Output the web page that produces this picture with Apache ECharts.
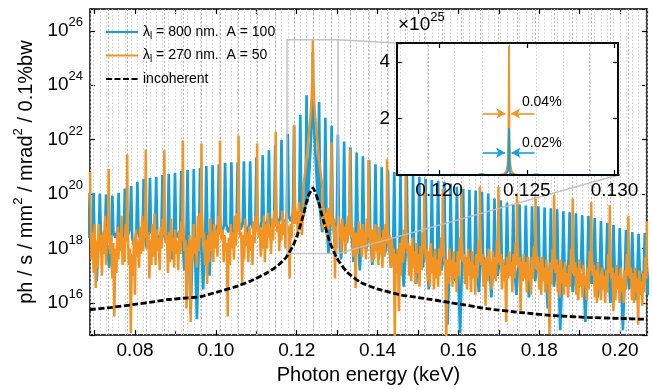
<!DOCTYPE html>
<html><head><meta charset="utf-8">
<script src="https://cdn.jsdelivr.net/npm/echarts@6/dist/echarts.min.js"></script>
<style>html,body{margin:0;padding:0;background:#fff}#c{width:652px;height:390px}</style>
</head><body><div id="c"></div>
<script>
// ---------- data (log10 of ph/s/mm^2/mrad^2/0.1%bw) ----------
const BLUE_STEP = 0.0015498;   // keV, harmonic spacing for λ = 800 nm
const ORANGE_STEP = 0.0045920; // keV, harmonic spacing for λ = 270 nm
const blueFirstN = 44;
const bluePeakLog = [20.05,20.05,20.02,19.98,19.95,20.05,20.20,20.31,20.45,20.56,20.60,20.63,20.70,20.74,20.78,20.85,20.88,20.92,20.96,21.03,21.06,
  21.10,21.14,21.17,21.17,21.21,21.21,21.35,21.43,21.61,21.82,22.00,22.22,22.51,22.91,23.63,
  25.22,23.38,22.80,22.51,22.18,21.93,21.71,21.53,21.39,21.25,21.10,20.99,20.88,
  20.81,20.74,20.70,20.70,20.63,20.56,20.52,20.49,20.45,20.38,20.27,20.20,20.16,20.13,20.09,20.02,19.84,19.77,
  19.69,19.62,19.62,19.58,19.55,19.55,19.51,19.48,19.44,19.37,19.33,19.30,19.22,19.19,19.12,19.01,18.94,18.87,18.75,18.68,18.61,18.54,18.57,18.57];
const blueGapLog = [
  [18.4,18.6,18.5],[18.2,16.8,18.4],[18.6,18.3,18.7],[18.1,17.3,18.5],[18.6,18.4,18.7],[18.5,18.2,18.6],[18.7,18.5,18.8],
  [18.4,18.1,18.6],[18.6,18.3,18.7],[18.5,18.0,18.6],[18.7,18.4,18.8],[18.5,18.2,18.7],[18.6,18.3,18.5],[18.3,17.6,18.6],
  [18.6,18.4,18.7],[18.5,17.2,18.5],[18.4,15.6,18.3],[18.2,15.4,18.4],[18.3,16.5,18.6],[18.6,17.0,18.7],[18.8,18.5,18.9],
  [18.8,18.5,18.9],[18.9,18.6,18.8],[18.7,18.3,18.9],[18.9,18.7,19.0],[18.8,18.5,18.9],[19.0,18.7,19.0],[18.9,18.6,19.0],
  [19.0,18.8,19.1],[19.0,18.7,19.1],[19.1,18.9,19.2],[19.1,18.8,19.2],[19.2,19.0,19.3],[19.3,19.1,19.4],[19.4,19.2,19.6],[19.7,19.5,20.0],
  [20.0,19.5,19.7],[19.4,18.6,19.3],[19.3,17.8,19.2],[19.2,18.2,19.1],[19.0,17.6,18.9],[18.9,18.3,18.8],[18.8,17.5,18.7],
  [18.7,17.2,18.6],[18.6,17.9,18.5],[18.5,17.4,18.4],[18.4,17.6,18.3],[18.3,17.8,18.2],[18.2,17.3,18.1],
  [18.0,17.2,18.0],[17.9,16.6,17.9],[18.0,17.4,17.8],[17.8,16.7,17.9],[17.9,17.3,17.8],[17.8,16.5,17.7],[17.7,17.0,17.8],
  [17.8,17.2,17.6],[17.6,15.2,17.5],[17.7,16.8,17.6],[17.6,14.9,17.5],[17.7,16.9,17.8],[17.8,17.1,17.6],[17.5,16.4,17.7],
  [17.8,17.2,17.6],[17.6,16.2,17.5],[17.7,17.0,17.6],[17.5,16.8,17.6],
  [17.6,17.0,17.5],[17.4,16.3,17.6],[17.5,16.9,17.4],[17.6,16.2,17.5],[17.4,16.8,17.5],[17.5,17.0,17.3],[17.3,15.8,17.4],
  [17.5,16.6,17.4],[17.4,15.0,17.3],[17.5,16.9,17.6],[17.4,16.4,17.3],[17.3,16.8,17.5],[17.4,15.3,17.3],[17.5,16.7,17.4],
  [17.3,16.2,17.4],[17.4,16.9,17.3],[17.3,16.0,17.2],[17.4,16.6,17.3],[17.2,15.0,17.3],[17.3,16.5,17.2],[17.2,16.1,17.3],
  [17.3,16.7,17.2],[17.2,16.3,17.3]];
const blueCoreN = 80;
const blueCoreOffset = [-0.0008,-0.0004,-0.0002,-0.0001,-0.00005,-0.00002,0,0.00002,0.00005,0.0001,0.0002,0.0004,0.0008];
const blueCoreLog = [21.0,22.2,23.0,23.6,24.2,24.75,25.22,24.75,24.2,23.6,23.0,22.2,21.0];

const orangeFirstN = 15;
const orangePeakLog = [20.81,20.92,21.46,21.64,21.61,21.97,21.86,21.97,22.15,21.86,22.29,22.54,25.66,21.90,21.64,21.25,
  21.28,20.70,20.38,20.20,20.20,20.27,20.27,20.02,19.91,19.98,19.84,19.70,19.60,19.20,19.00];
const orangeGapLog = [
  [19.1,17.6,18.6,17.1,18.9,16.55,18.3,17.3,18.9,17.9,18.5,17.0,18.6,17.8,19.2,17.4,18.8,18.2],
  [19.3,17.8,18.5,16.9,18.2,15.5,18.0,17.1,18.8,17.6,18.6,17.9,19.2,17.4,18.4,17.5,18.9,18.3],
  [18.8,17.4,18.0,14.9,17.8,17.0,18.4,16.3,18.7,17.7,18.3,17.3,18.8,17.8,19.2,17.9,19.0,18.4],
  [19.4,18.0,18.6,16.9,18.3,17.4,18.9,17.7,19.3,17.4,18.7,17.9,18.4,17.2,18.8,18.0,19.1,18.5],
  [19.0,18.2,18.5,17.1,18.6,17.5,19.1,17.9,18.4,17.3,18.7,17.8,18.3,17.2,18.6,17.8,19.0,18.3],
  [19.0,17.9,18.3,15.8,18.0,17.2,18.5,15.3,18.3,17.6,18.9,17.8,18.4,17.3,19.2,17.9,19.3,18.4],
  [19.3,18.2,18.6,17.4,18.3,16.7,18.5,17.5,19.1,17.9,18.6,17.5,18.9,18.0,18.7,17.7,19.2,18.5],
  [19.1,18.3,18.7,17.5,18.5,17.9,18.2,15.5,18.4,17.4,18.9,18.0,18.6,17.6,19.2,18.1,19.3,18.6],
  [19.4,18.4,18.6,16.7,18.5,17.6,19.1,18.1,18.6,17.5,18.8,17.9,18.5,17.4,19.0,18.2,19.2,18.6],
  [19.3,18.4,18.8,17.7,18.7,18.0,19.2,17.5,18.9,18.0,19.3,18.4,18.8,17.8,19.1,18.3,19.4,18.8],
  [19.5,18.6,19.0,17.9,18.9,18.3,19.4,18.5,19.0,18.0,19.3,18.5,18.8,16.9,18.9,18.4,19.5,18.9],
  [19.6,18.9,19.4,18.4,19.7,18.9,19.3,18.5,19.6,19.0,19.8,19.1,19.6,19.2,19.9,19.4,20.1,19.6],
  [20.0,19.5,19.9,19.0,20.0,19.3,19.6,18.8,19.8,18.7,19.5,18.9,19.3,18.5,19.5,18.7,19.4,18.9],
  [19.5,18.7,19.1,16.9,18.8,18.0,19.2,18.4,18.9,17.9,19.1,18.3,18.8,17.8,18.9,18.2,19.2,18.5],
  [19.2,18.4,18.8,17.7,18.6,16.55,18.6,17.8,19.0,18.1,18.7,17.7,18.9,18.0,18.6,17.6,19.1,18.4],
  [19.1,18.2,18.7,17.5,18.7,17.6,18.9,17.9,18.5,17.4,18.8,17.8,18.4,17.3,18.7,17.7,18.9,18.2],
  [18.9,18.0,18.5,17.3,18.4,17.4,18.0,14.75,17.8,17.1,18.0,15.7,18.2,17.0,18.4,17.5,18.7,18.0],
  [18.7,17.8,18.2,17.0,18.1,16.8,18.4,17.3,17.9,16.7,18.2,17.1,17.8,16.6,18.1,17.2,18.6,17.9],
  [18.6,17.6,18.0,16.8,17.9,16.6,18.2,17.1,17.7,16.5,18.0,16.9,17.6,16.6,18.0,17.0,18.4,17.7],
  [18.5,17.5,17.6,14.75,17.6,16.7,18.0,17.0,17.6,16.6,17.9,16.9,17.5,16.4,17.9,17.0,18.4,17.6],
  [18.4,17.5,17.8,16.7,17.7,16.5,18.0,17.0,17.5,16.4,17.9,16.9,17.4,16.3,17.8,16.9,18.3,17.5],
  [18.3,17.4,17.8,16.6,17.6,15.9,17.7,16.8,18.0,17.0,17.5,16.5,17.9,16.9,17.7,16.8,18.3,17.5],
  [18.3,17.4,17.8,16.5,17.6,16.8,17.4,15.3,17.7,16.9,17.9,17.0,17.5,16.4,17.8,16.9,18.2,17.4],
  [18.2,17.3,17.7,15.7,17.5,16.8,17.8,16.9,17.5,16.4,17.7,16.8,17.3,16.3,17.7,16.9,18.1,17.4],
  [18.1,17.2,17.7,16.5,17.5,16.3,17.7,16.8,17.3,16.4,17.6,16.7,17.2,14.86,17.5,16.7,18.0,17.3],
  [18.0,17.1,17.6,16.4,17.4,16.2,17.6,16.7,17.2,16.3,17.5,16.6,17.1,16.2,17.4,16.6,18.0,17.2],
  [18.0,17.0,17.5,16.3,17.3,16.1,17.6,16.6,17.1,16.2,17.4,16.6,17.0,16.1,17.3,16.5,17.9,17.2],
  [17.9,17.0,17.4,16.2,17.2,16.0,17.5,16.5,17.0,16.1,17.3,16.5,17.0,16.0,17.2,16.4,17.8,17.1],
  [17.9,16.9,17.3,15.7,17.1,16.1,17.4,16.5,17.0,16.0,17.3,16.4,16.9,16.0,17.2,16.5,17.8,17.0],
  [17.8,16.9,17.3,16.1,17.1,16.0,17.3,16.4,16.9,15.2,17.2,16.3,16.8,15.9,17.1,16.4,17.7,16.9]];
const orangeCoreN = 27;
const orangeCoreOffset = [-0.0024,-0.0019,-0.0014,-0.0010,-0.0006,-0.0003,-0.00015,-0.00008,-0.00003,0,0.00003,0.00008,0.00015,0.0003,0.0006,0.0010,0.0014,0.0019,0.0024];
const orangeCoreLog = [20.2,20.8,21.5,22.2,22.8,23.5,24.1,24.6,25.2,25.66,25.2,24.6,24.1,23.5,22.8,22.2,21.5,20.8,20.2];

const incE = [0.06886,0.07381,0.07950,0.08494,0.08791,0.09311,0.09608,0.10053,0.10474,0.10869,0.11290,0.11537,0.11736,0.11908,
  0.12032,0.12156,0.12280,0.12403,0.12527,0.12651,0.12824,0.12997,0.13245,0.13566,0.13987,0.14556,0.15051,0.15818,0.16709,
  0.17525,0.18341,0.19182,0.19999,0.20667];
const incLog = [15.76,15.83,15.94,16.05,16.12,16.19,16.23,16.41,16.59,16.81,17.13,17.38,17.67,18.10,18.57,19.19,19.91,20.23,
  19.77,19.08,18.21,17.64,17.13,16.77,16.52,16.30,16.19,16.01,15.79,15.65,15.54,15.47,15.43,15.40];

const xTickLabels = ['0.08','0.10','0.12','0.14','0.16','0.18','0.20'];
const yTickExponents = [16,18,20,22,24,26];
const insetXTickLabels = ['0.120','0.125','0.130'];
const insetYTickLabels = ['2','4'];

const seriesNames = ['λl = 800 nm.  A = 100', 'λl = 270 nm.  A = 50', 'incoherent'];

// ---------- layout ----------
const X_MIN = 0.06886, X_MAX = 0.20666, Y_MIN = 14.82, Y_MAX = 26.80;
const INSET_X = [0.1176, 0.1302], INSET_Y_MAX = 4.68;
const ZOOM_Y_LOG = [17.82, 25.67];
const FONT = "'Liberation Sans', Arial, Helvetica, sans-serif";
const BLUE = '#14a0dd', ORANGE = '#f39321';

function buildPoints(step, firstN, peaks, gaps, coreN, coreOff, coreLog) {
  const pts = [];
  const coreE = coreN * step;
  const span = Math.max.apply(null, coreOff.map(Math.abs));
  for (let i = 0; i < peaks.length; i++) {
    const n = firstN + i, E = n * step;
    if (n === coreN) coreOff.forEach((o, k) => pts.push([E + o, coreLog[k]]));
    else pts.push([E, peaks[i]]);
    if (i < gaps.length) {
      const g = gaps[i];
      g.forEach((v, k) => {
        const x = E + step * (k + 0.5) / g.length;
        if (Math.abs(x - coreE) > span) pts.push([x, v]);
      });
    }
  }
  return pts;
}
const bluePts = buildPoints(BLUE_STEP, blueFirstN, bluePeakLog, blueGapLog, blueCoreN, blueCoreOffset, blueCoreLog);
const orangePts = buildPoints(ORANGE_STEP, orangeFirstN, orangePeakLog, orangeGapLog, orangeCoreN, orangeCoreOffset, orangeCoreLog);
const incPts = incE.map((e, i) => [e, incLog[i]]);
const toInset = pts => pts.filter(p => p[0] > INSET_X[0] - 0.002 && p[0] < INSET_X[1] + 0.002).map(p => [p[0], Math.pow(10, p[1] - 25)]);

// vertical guide lines at the harmonic energies of both drive lasers
const lightGrid = { color: '#cfcfcf', type: [1.5, 2], width: 1 };
const darkGrid = { color: '#b0b0b0', type: [2, 2], width: 1 };
function harmonicLines(xmin, xmax) {
  const out = [];
  [[BLUE_STEP, lightGrid], [ORANGE_STEP, darkGrid]].forEach(([step, st]) => {
    for (let n = 1; n * step < xmax; n++) {
      const e = n * step;
      if (e > xmin) out.push([{ coord: [e, 'min'], lineStyle: st }, { coord: [e, 'max'] }]);
    }
  });
  return out;
}

const near = (v, q) => Math.abs(v / q - Math.round(v / q)) < 1e-6;
const supRich = {
  b: { fontSize: 19, lineHeight: 30, fontFamily: FONT, color: '#000' },
  s: { fontSize: 13, lineHeight: 13, verticalAlign: 'top', fontFamily: FONT, color: '#000' }
};
const axisBase = (extra) => Object.assign({
  type: 'value',
  axisLine: { show: true, onZero: false, lineStyle: { color: '#000', width: 1.5 } },
  axisTick: { show: true, inside: true, length: 5, lineStyle: { color: '#000', width: 1.2 } },
  splitLine: { show: false }
}, extra);

const chart = echarts.init(document.getElementById('c'), null, { renderer: 'canvas' });
const option = {
  animation: false,
  backgroundColor: '#fff',
  textStyle: { fontFamily: FONT },
  grid: [
    { left: 90, top: 9, right: 5, bottom: 49 },
    { left: 397, top: 43, width: 221, height: 132 }
  ],
  legend: {
    data: seriesNames,
    orient: 'vertical', left: 100, top: 20,
    itemWidth: 32, itemHeight: 14, itemGap: 7.5,
    itemStyle: { opacity: 0, borderWidth: 0 },
    textStyle: {
      fontSize: 14, color: '#000', fontFamily: FONT,
      rich: {
        m: { fontSize: 14, lineHeight: 18, fontFamily: FONT, color: '#000' },
        sub: { fontSize: 10, lineHeight: 10, verticalAlign: 'bottom', fontFamily: FONT, color: '#000' }
      }
    },
    formatter: name => name.charAt(0) === 'λ' ? '{m|λ}{sub|l}{m|' + name.slice(2) + '}' : '{m|' + name + '}'
  },
  xAxis: [
    axisBase({ gridIndex: 0, position: 'bottom', min: X_MIN, max: X_MAX, minInterval: 0.01, maxInterval: 0.01,
      axisLabel: { fontSize: 19, color: '#000', margin: 6, fontFamily: FONT,
        formatter: v => { const s = v.toFixed(2); return (near(v, 0.01) && xTickLabels.indexOf(s) >= 0) ? s : ''; } },
      name: 'Photon energy (keV)', nameLocation: 'middle', nameGap: 29,
      nameTextStyle: { fontSize: 20, color: '#000', fontFamily: FONT } }),
    axisBase({ gridIndex: 0, position: 'top', min: X_MIN, max: X_MAX, minInterval: 0.01, maxInterval: 0.01, axisLabel: { show: false } }),
    axisBase({ gridIndex: 1, position: 'bottom', min: INSET_X[0], max: INSET_X[1], minInterval: 0.005, maxInterval: 0.005, z: 12,
      axisLabel: { fontSize: 19, color: '#000', margin: 6, fontFamily: FONT,
        formatter: v => { const s = v.toFixed(3); return (near(v, 0.005) && insetXTickLabels.indexOf(s) >= 0) ? s : ''; } } }),
    axisBase({ gridIndex: 1, position: 'top', min: INSET_X[0], max: INSET_X[1], minInterval: 0.005, maxInterval: 0.005, z: 12, axisLabel: { show: false } })
  ],
  yAxis: [
    axisBase({ gridIndex: 0, position: 'left', min: Y_MIN, max: Y_MAX, minInterval: 2, maxInterval: 2,
      axisLabel: { margin: 7, rich: supRich,
        formatter: v => { const r = Math.round(v); return (Math.abs(v - r) < 1e-6 && yTickExponents.indexOf(r) >= 0) ? '{b|10}{s|' + r + '}' : ''; } },
      name: '{b|ph / s / mm}{s|2}{b| / mrad}{s|2}{b| / 0.1%bw}', nameLocation: 'middle', nameRotate: 90, nameGap: 45,
      nameTextStyle: { rich: {
        b: { fontSize: 20, lineHeight: 30, fontFamily: FONT, color: '#000' },
        s: { fontSize: 13, lineHeight: 13, verticalAlign: 'top', fontFamily: FONT, color: '#000' } } } }),
    axisBase({ gridIndex: 0, position: 'right', min: Y_MIN, max: Y_MAX, minInterval: 2, maxInterval: 2, axisLabel: { show: false } }),
    axisBase({ gridIndex: 1, position: 'left', min: 0, max: INSET_Y_MAX, interval: 2, z: 12,
      axisLabel: { fontSize: 19, color: '#000', margin: 7, fontFamily: FONT,
        formatter: v => insetYTickLabels.indexOf(String(v)) >= 0 ? String(v) : '' } }),
    axisBase({ gridIndex: 1, position: 'right', min: 0, max: INSET_Y_MAX, interval: 2, z: 12, axisLabel: { show: false } })
  ],
  series: [
    { name: 'grid', type: 'line', xAxisIndex: 0, yAxisIndex: 0, data: [[X_MIN, Y_MIN], [X_MAX, Y_MAX]], showSymbol: false, symbol: 'none',
      lineStyle: { opacity: 0 }, z: 1, silent: true,
      markLine: { silent: true, z: 1, symbol: 'none', label: { show: false }, animation: false,
        data: harmonicLines(X_MIN, X_MAX) } },
    { name: seriesNames[0], type: 'line', xAxisIndex: 0, yAxisIndex: 0, data: bluePts, symbol: 'none', z: 2,
      color: BLUE, itemStyle: { color: BLUE, opacity: 0 }, lineStyle: { color: BLUE, width: 2.7 } },
    { name: seriesNames[1], type: 'line', xAxisIndex: 0, yAxisIndex: 0, data: orangePts, symbol: 'none', z: 3,
      color: ORANGE, itemStyle: { color: ORANGE, opacity: 0 }, lineStyle: { color: ORANGE, width: 2.5 } },
    { name: seriesNames[2], type: 'line', xAxisIndex: 0, yAxisIndex: 0, data: incPts, symbol: 'none', z: 4, smooth: 0.15,
      color: '#000', itemStyle: { color: '#000', opacity: 0 }, lineStyle: { color: '#000', width: 2.8, type: [6, 2.5] } },
    { name: 'inset-orange', type: 'line', xAxisIndex: 2, yAxisIndex: 2, data: toInset(orangePts), symbol: 'none', z: 10,
      lineStyle: { color: ORANGE, width: 1.8 }, color: ORANGE,
      markLine: { silent: true, z: 13, symbol: ['none', 'arrow'], symbolSize: [8, 9], label: { show: false }, animation: false,
        lineStyle: { color: ORANGE, width: 1.6, type: 'solid' },
        data: [
          [{ coord: [0.1225, 2.18] }, { coord: [0.12378, 2.18] }],
          [{ coord: [0.12544, 2.18] }, { coord: [0.12411, 2.18] }]
        ] } },
    { name: 'inset-blue', type: 'line', xAxisIndex: 2, yAxisIndex: 2, data: toInset(bluePts), symbol: 'none', z: 11,
      lineStyle: { color: BLUE, width: 1.8 }, color: BLUE,
      markLine: { silent: true, z: 13, symbol: ['none', 'arrow'], symbolSize: [8, 9], label: { show: false }, animation: false,
        lineStyle: { color: BLUE, width: 1.6, type: 'solid' },
        data: [
          [{ coord: [0.1225, 0.79] }, { coord: [0.12376, 0.79] }],
          [{ coord: [0.12544, 0.79] }, { coord: [0.12413, 0.79] }]
        ] } },
    { name: 'inset-grid', type: 'line', xAxisIndex: 2, yAxisIndex: 2, data: [[INSET_X[0], 0], [INSET_X[1], INSET_Y_MAX]], symbol: 'none',
      lineStyle: { opacity: 0 }, z: 9, silent: true,
      markLine: { silent: true, z: 9, symbol: 'none', label: { show: false }, animation: false,
        data: harmonicLines(INSET_X[0], INSET_X[1]) } }
  ]
};
chart.setOption(option);

const c0 = v => chart.convertToPixel({ xAxisIndex: 0, yAxisIndex: 0 }, v);
const c1 = v => chart.convertToPixel({ xAxisIndex: 2, yAxisIndex: 2 }, v);
const rTL = c0([INSET_X[0], ZOOM_Y_LOG[1]]), rBR = c0([INSET_X[1], ZOOM_Y_LOG[0]]);
const iTL = c1([INSET_X[0], INSET_Y_MAX]), iBR = c1([INSET_X[1], 0]);
const gray = { stroke: 'rgba(190,190,190,0.9)', lineWidth: 1.5, fill: null };
const t1 = c1([0.12472, 2.57]), t2 = c1([0.12472, 1.14]);
chart.setOption({
  graphic: [
    { type: 'rect', z: 4, silent: true, shape: { x: rTL[0], y: rTL[1], width: rBR[0] - rTL[0], height: rBR[1] - rTL[1] }, style: gray },
    { type: 'line', z: 4, silent: true, shape: { x1: rBR[0], y1: rTL[1], x2: iTL[0], y2: iTL[1] }, style: gray },
    { type: 'line', z: 4, silent: true, shape: { x1: rBR[0], y1: rBR[1], x2: iBR[0], y2: iBR[1] }, style: gray },
    { type: 'rect', z: 5, silent: true, shape: { x: iTL[0], y: iTL[1], width: iBR[0] - iTL[0], height: iBR[1] - iTL[1] }, style: { fill: '#fff' } },
    { type: 'rect', z: 15, silent: true, shape: { x: iTL[0], y: iTL[1], width: iBR[0] - iTL[0], height: iBR[1] - iTL[1] },
      style: { fill: null, stroke: '#000', lineWidth: 1.6 } },
    { type: 'text', z: 15, silent: true, x: iTL[0] + 1, y: iTL[1] - 4,
      style: { text: '{b|×10}{s|25}', align: 'left', verticalAlign: 'bottom', fill: '#000', fontSize: 19, fontFamily: FONT,
        rich: { b: { fontSize: 19, lineHeight: 28, fontFamily: FONT, fill: '#000' }, s: { fontSize: 13, lineHeight: 13, verticalAlign: 'top', fontFamily: FONT, fill: '#000' } } } },
    { type: 'text', z: 15, silent: true, x: t1[0], y: t1[1],
      style: { text: '0.04%', align: 'left', verticalAlign: 'middle', fill: '#000', fontSize: 14, fontFamily: FONT } },
    { type: 'text', z: 15, silent: true, x: t2[0], y: t2[1],
      style: { text: '0.02%', align: 'left', verticalAlign: 'middle', fill: '#000', fontSize: 14, fontFamily: FONT } }
  ]
});
</script>
</body></html>
